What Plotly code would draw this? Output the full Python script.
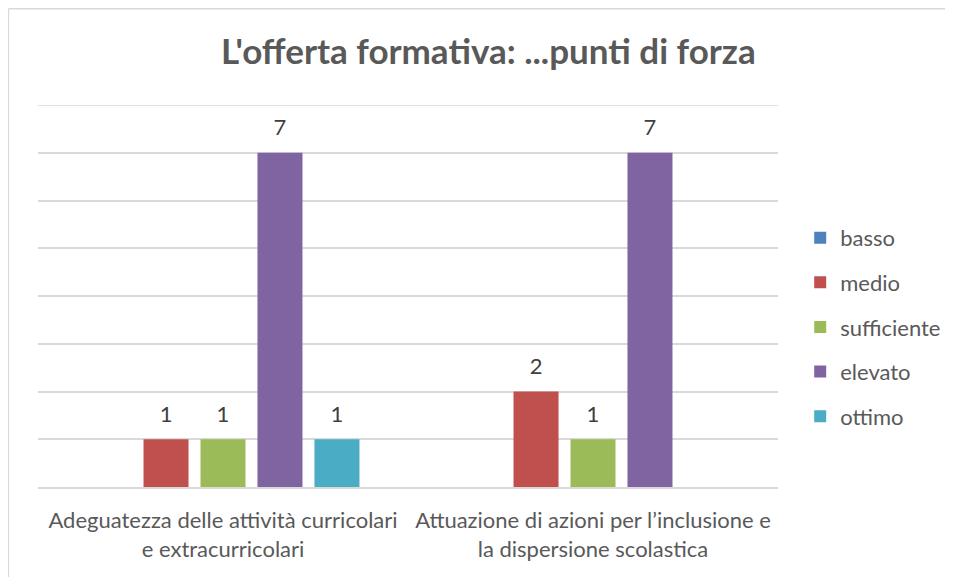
import plotly.graph_objects as go

categories = [
    "Adeguatezza delle attività curricolari<br>e extracurricolari",
    "Attuazione di azioni per l’inclusione e<br>la dispersione scolastica",
]
series_names = ["basso", "medio", "sufficiente", "elevato", "ottimo"]
basso = [None, None]
medio = [1, 2]
sufficiente = [1, 1]
elevato = [7, 7]
ottimo = [1, None]

colors = ["#4F81BD", "#C0504D", "#9BBB59", "#8064A2", "#4BACC6"]
font_family = "Lato, 'Open Sans', sans-serif"

fig = go.Figure()
for name, vals, col in zip(series_names, [basso, medio, sufficiente, elevato, ottimo], colors):
    fig.add_trace(go.Bar(
        x=categories, y=vals, name=name, legendgroup=name,
        marker=dict(color=col, line=dict(width=0)),
    ))
# data labels, placed with the same grouping as the bars
for name, vals in zip(series_names, [basso, medio, sufficiente, elevato, ottimo]):
    fig.add_trace(go.Scatter(
        x=categories, y=vals, mode="markers+text", showlegend=False, hoverinfo="skip",
        marker=dict(size=18, opacity=0),
        text=[("" if v is None else str(v)) for v in vals],
        textposition="top center", cliponaxis=False,
        textfont=dict(size=22, color="#404040", family=font_family),
    ))

fig.update_layout(
    width=953, height=577,
    margin=dict(l=30, r=183, t=97, b=98),
    paper_bgcolor="white", plot_bgcolor="white",
    barmode="group", bargap=0.23, bargroupgap=0.21,
    scattermode="group", scattergap=0.23,
    title=dict(text="<b>L'offerta formativa: ...punti di forza</b>",
               x=0.504, xanchor="center", y=0.924, yanchor="middle",
               font=dict(size=35, color="#595959", family=font_family)),
    font=dict(family=font_family, color="#595959"),
    legend=dict(x=1.03, xanchor="left", y=0.419, yanchor="middle",
                font=dict(size=22, color="#595959"),
                tracegroupgap=13, itemwidth=30),
    showlegend=True,
)
fig.update_xaxes(showgrid=False, showline=True, linecolor="#D9D9D9", linewidth=1.5,
                 tickfont=dict(size=22, color="#595959"), ticks="", ticklabelstandoff=13)
fig.update_yaxes(range=[0, 8], dtick=1, showgrid=True, gridcolor="#D9D9D9", gridwidth=1.5,
                 showticklabels=False, zeroline=False, showline=False)

# top gridline at 8
fig.add_shape(type="line", xref="paper", yref="y", x0=0, x1=1, y0=8, y1=8,
              line=dict(color="#D9D9D9", width=1.5), layer="below")

# outer chart border (top and left edges visible)
fig.add_shape(type="line", xref="paper", yref="paper", x0=-0.04, x1=1.4, y0=1.252, y1=1.252,
              line=dict(color="#D9D9D9", width=1.5))
fig.add_shape(type="line", xref="paper", yref="paper", x0=-0.04, x1=-0.04, y0=-0.3, y1=1.252,
              line=dict(color="#D9D9D9", width=1.5))

fig.write_html("out.html")
